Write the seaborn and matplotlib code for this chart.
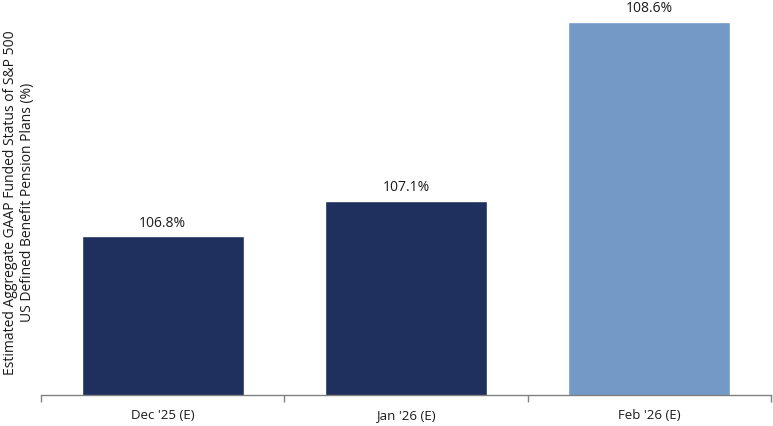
import pandas as pd
import matplotlib.pyplot as plt
import seaborn as sns

# Chart values
periods = ["Dec '25 (E)", "Jan '26 (E)", "Feb '26 (E)"]
funded_status = [106.8, 107.1, 108.6]
bar_colors = ["#1F2F5E", "#1F2F5E", "#7399C6"]

df = pd.DataFrame({"Period": periods, "Funded": funded_status})

sns.set_style("white")
plt.rcParams['font.family'] = ['Open Sans', 'DejaVu Sans']

fig = plt.figure(figsize=(7.73, 4.26), dpi=100)
ax = fig.add_axes([0.053, 0.0728, 0.9444, 0.9038])

sns.barplot(data=df, x="Period", y="Funded", hue="Period", palette=bar_colors,
            width=0.665, legend=False, ax=ax, saturation=1)

ax.set_ylim(105.47, 108.70)
ax.set_xlim(-0.5, 2.5)

# value labels
for i, v in enumerate(funded_status):
    ax.annotate(f"{v:.1f}%", (i, v), xytext=(0, 4), textcoords="offset points",
                ha="center", va="bottom", fontsize=10, color="#1a1a1a")

ax.set_xlabel("")
ax.set_ylabel("Estimated Aggregate GAAP Funded Status of S&P 500\nUS Defined Benefit Pension Plans (%)",
              fontsize=10, color="#1a1a1a", labelpad=4)
ax.set_yticks([])

# ticks at the category boundaries
ax.set_xticks([-0.5, 0.5, 1.5, 2.5], minor=True)
ax.tick_params(axis="x", which="minor", length=5, width=1, color="#808080", direction="out", bottom=True)
ax.tick_params(axis="x", which="major", length=0, pad=10, labelsize=9.5, labelcolor="#1a1a1a")

for side in ["left", "right", "top"]:
    ax.spines[side].set_visible(False)
ax.spines["bottom"].set_color("#808080")
ax.spines["bottom"].set_linewidth(1)

fig.savefig("out.png", dpi=100)
